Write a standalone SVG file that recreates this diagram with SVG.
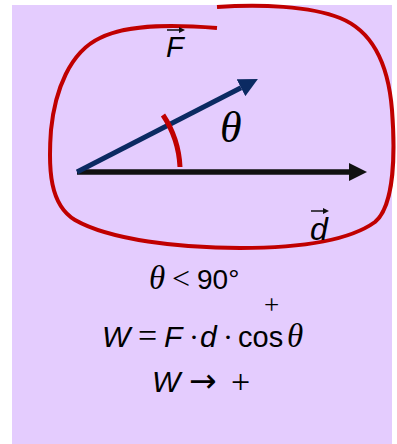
<svg xmlns="http://www.w3.org/2000/svg" width="397" height="444" viewBox="0 0 397 444">
<style>
.sans{font-family:"Liberation Sans",Arial,sans-serif;fill:#000}
.it{font-style:italic}
.ser{font-family:"Liberation Serif","Times New Roman",serif;fill:#000}
.dj{font-family:"DejaVu Sans",sans-serif;fill:#000}
</style>
<defs>
<marker id="headBlack" markerUnits="userSpaceOnUse" markerWidth="18" markerHeight="18" refX="0" refY="9" orient="auto"><path d="M0,0 L18,9 L0,18 z" fill="#111"/></marker>
<marker id="headBlue" markerUnits="userSpaceOnUse" markerWidth="19" markerHeight="19" refX="0" refY="9.5" orient="auto"><path d="M0,0 L19,9.5 L0,19 z" fill="#0b2a62"/></marker>
<marker id="headSmall" markerUnits="userSpaceOnUse" markerWidth="6" markerHeight="6" refX="0" refY="3" orient="auto"><path d="M0,0 L6,3 L0,6 z" fill="#111"/></marker>
</defs>
<rect x="12" y="5" width="380" height="439" fill="#e4ccfe"/>
<g id="loop">
<path d="M217,28 C180,25 130,23 100,38 C70,52 55,90 51,130 C48,170 50,205 75,220 C110,240 180,248 240,248 C300,248 350,240 375,222 C395,205 395,150 392,110 C388,60 370,30 340,18 C310,6 260,4 217,7" fill="none" stroke="#c00000" stroke-width="4"/>
</g>
<g id="connectors">
<line x1="77" y1="172" x2="349" y2="172" stroke="#111" stroke-width="5.5" marker-end="url(#headBlack)"/>
<line x1="77" y1="172" x2="241" y2="87.7" stroke="#0b2a62" stroke-width="5" marker-end="url(#headBlue)"/>
<path d="M163,115 A103,103 0 0 1 180,167" fill="none" stroke="#c00000" stroke-width="5"/>
</g>
<g id="labels">
<text class="ser it" x="220" y="142" font-size="44">θ</text>
<text class="sans it" x="166" y="57" font-size="29">F</text>
<line x1="167" y1="30" x2="179" y2="30" stroke="#111" stroke-width="1.5" marker-end="url(#headSmall)"/>
<text class="sans it" x="310" y="240" font-size="32">d</text>
<line x1="311" y1="211" x2="323" y2="211" stroke="#111" stroke-width="1.5" marker-end="url(#headSmall)"/>
</g>
<g id="equations">
<text class="ser it" x="149" y="289" font-size="33">θ</text>
<text class="ser" x="172" y="289" font-size="32">&lt;</text>
<text class="sans" x="197" y="289" font-size="28">90°</text>
<text class="ser" x="264" y="314" font-size="27">+</text>
<text class="sans it" x="102" y="347" font-size="30">W</text>
<text class="ser" x="138" y="347" font-size="34">=</text>
<text class="sans it" x="164" y="347" font-size="30">F</text>
<text class="ser" x="189" y="347" font-size="30">·</text>
<text class="sans it" x="200" y="347" font-size="30">d</text>
<text class="ser" x="223" y="347" font-size="30">·</text>
<text class="sans" x="238" y="347" font-size="29">cos</text>
<text class="ser it" x="287" y="347" font-size="33">θ</text>
<text class="sans it" x="152" y="392" font-size="30">W</text>
<text class="dj" x="189" y="392" font-size="33">→</text>
<text class="ser" x="231" y="393" font-size="34">+</text>
</g>
</svg>
